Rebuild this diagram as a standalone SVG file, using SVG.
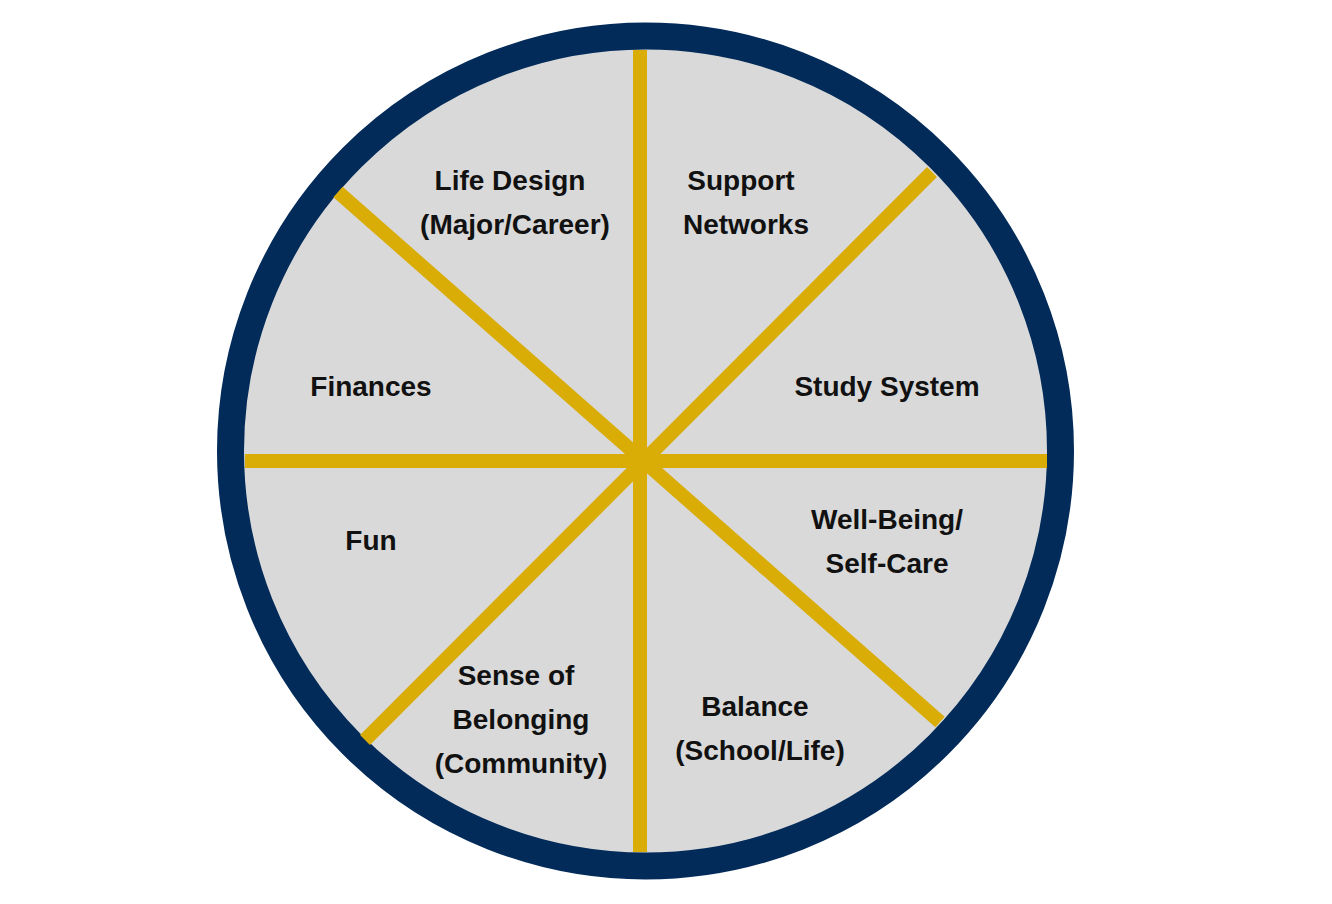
<svg xmlns="http://www.w3.org/2000/svg" width="1332" height="904" viewBox="0 0 1332 904">
<style>
text{font-family:"Liberation Sans",Arial,sans-serif;font-weight:bold;font-size:28px;fill:#111;text-anchor:middle}
.sp{stroke:#D9AC06;stroke-width:14;fill:none}
</style>
<rect width="1332" height="904" fill="#fff"/>
<g id="wheel">
<circle cx="645.5" cy="451" r="415" fill="#D9D9D9" stroke="#022B5A" stroke-width="27"/>
</g>
<g id="connectors">
<line class="sp" x1="640" y1="50" x2="640" y2="852"/>
<line class="sp" x1="245" y1="461" x2="1047" y2="461"/>
<line class="sp" x1="338" y1="192" x2="940" y2="722"/>
<line class="sp" x1="365" y1="740" x2="932" y2="172"/>
</g>
<g id="life-design"><text x="510" y="190">Life Design</text><text x="515" y="234">(Major/Career)</text></g>
<g id="support"><text x="741" y="190">Support</text><text x="746" y="234">Networks</text></g>
<g id="finances"><text x="371" y="396">Finances</text></g>
<g id="study"><text x="887" y="396">Study System</text></g>
<g id="fun"><text x="371" y="550">Fun</text></g>
<g id="wellbeing"><text x="887" y="529">Well-Being/</text><text x="887" y="573">Self-Care</text></g>
<g id="belonging"><text x="516" y="685">Sense of</text><text x="521" y="729">Belonging</text><text x="521" y="773">(Community)</text></g>
<g id="balance"><text x="755" y="716">Balance</text><text x="760" y="760">(School/Life)</text></g>
</svg>
